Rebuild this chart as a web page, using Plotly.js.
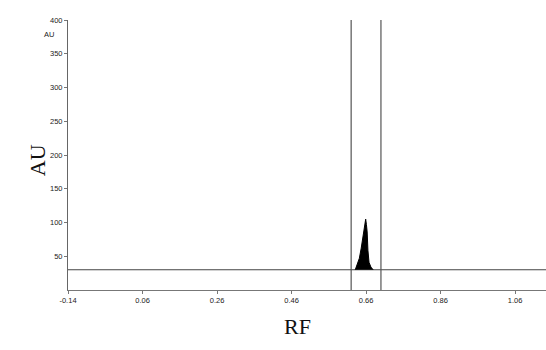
<!DOCTYPE html>
<html>
<head>
<meta charset="utf-8">
<script src="https://cdn.plot.ly/plotly-3.0.1.min.js"></script>
<style>html,body{margin:0;padding:0;background:#fff;}#chart{width:546px;height:350px;}</style>
</head>
<body>
<div id="chart"></div>
<script>
// Peak profile (Rf vs absorbance units)
const peakRf = [0.631, 0.636, 0.642, 0.647, 0.652, 0.656, 0.659, 0.661, 0.663, 0.665, 0.668, 0.673, 0.679];
const peakAU = [30, 38, 47, 62, 80, 92, 105, 97, 86, 59, 41, 34, 30];
// Baseline
const baselineRf = [-0.14, 1.145];
const baselineAU = [30, 30];
// Integration window borders
const windowRf = [0.62, 0.70];
const windowAU = [0, 400];
// Axis ticks
const xTickVals = [-0.14, 0.06, 0.26, 0.46, 0.66, 0.86, 1.06];
const xTickText = ["-0.14", "0.06", "0.26", "0.46", "0.66", "0.86", "1.06"];
const yTickVals = [50, 100, 150, 200, 250, 300, 350, 400];
const yTickText = ["50", "100", "150", "200", "250", "300", "350", "400"];

const traces = [
  {x: baselineRf, y: baselineAU, mode: 'lines', line: {color: '#444', width: 1}, hoverinfo: 'skip'},
  {x: [windowRf[0], windowRf[0]], y: windowAU, mode: 'lines', line: {color: '#555', width: 1.2}, hoverinfo: 'skip'},
  {x: [windowRf[1], windowRf[1]], y: windowAU, mode: 'lines', line: {color: '#555', width: 1.2}, hoverinfo: 'skip'},
  {x: peakRf, y: peakAU, mode: 'lines', fill: 'toself', fillcolor: '#000', line: {color: '#000', width: 1}}
];

const tf = {family: 'Liberation Sans, Arial, sans-serif', size: 7.5, color: '#222'};

const layout = {
  width: 546, height: 350,
  margin: {l: 67.5, r: 0, t: 20, b: 60},
  showlegend: false,
  paper_bgcolor: '#fff', plot_bgcolor: '#fff',
  font: tf,
  xaxis: {
    range: [-0.14, 1.143], tickvals: xTickVals, ticktext: xTickText,
    showgrid: false, zeroline: false, showline: true, linecolor: '#777', linewidth: 1,
    ticks: 'outside', ticklen: 3, tickcolor: '#777', tickfont: tf
  },
  yaxis: {
    range: [0, 400], tickvals: yTickVals, ticktext: yTickText,
    showgrid: false, zeroline: false, showline: true, linecolor: '#666', linewidth: 1,
    ticks: 'outside', ticklen: 3, tickcolor: '#777', tickfont: tf
  },
  annotations: [
    {xref: 'paper', yref: 'paper', x: -0.095, y: 0.481, text: 'AU', showarrow: false, textangle: -90,
     font: {family: 'Liberation Serif, Times New Roman, serif', size: 22, color: '#111'}},
    {xref: 'paper', yref: 'paper', x: 0.481, y: -0.189, text: 'RF', showarrow: false,
     font: {family: 'Liberation Serif, Times New Roman, serif', size: 22, color: '#111'}},
    {xref: 'paper', yref: 'paper', x: -0.025, y: 0.972, xanchor: 'right', text: 'AU', showarrow: false,
     font: tf}
  ]
};

Plotly.newPlot('chart', traces, layout, {displayModeBar: false, staticPlot: true});
</script>
</body>
</html>
